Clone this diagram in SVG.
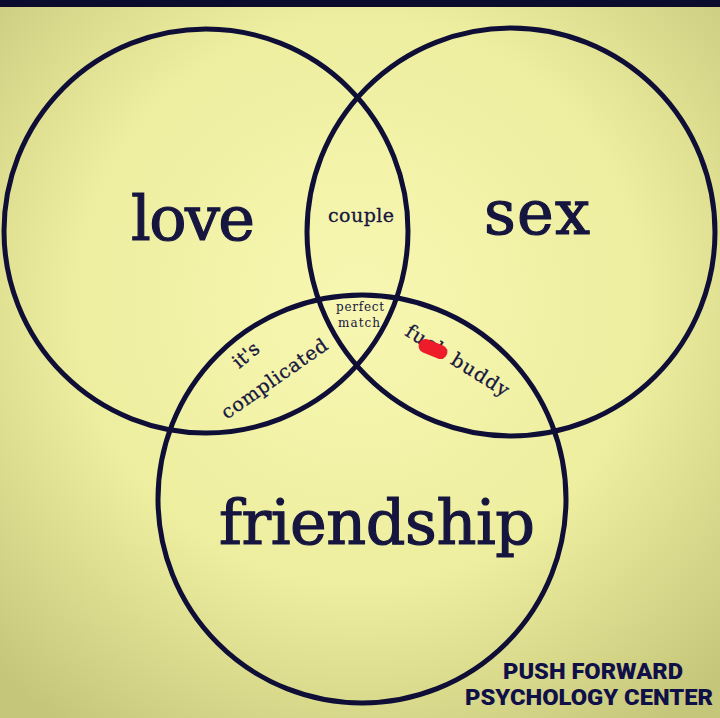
<svg xmlns="http://www.w3.org/2000/svg" width="720" height="718" viewBox="0 0 720 718">
<defs>
<radialGradient id="bg" cx="50%" cy="42%" r="72%">
<stop offset="0" stop-color="#f7f7b2"/>
<stop offset="0.55" stop-color="#eeeea0"/>
<stop offset="1" stop-color="#c6c67a"/>
</radialGradient>
</defs>
<style>
.c{fill:none;stroke:#0e0e36;stroke-width:5}
.big{font-family:"DejaVu Serif","Liberation Serif",serif;fill:#15153f;stroke:#15153f;stroke-width:1.2;font-size:62px}
.sm{font-family:"DejaVu Serif","Liberation Serif",serif;fill:#15153f;stroke:#15153f;stroke-width:0.3;font-size:19px}
.xs{font-family:"DejaVu Serif","Liberation Serif",serif;fill:#15153f;font-size:12px}
.wm{font-family:Roboto,"Liberation Sans",sans-serif;font-weight:900;fill:#101048;font-size:22px}
</style>
<rect width="720" height="718" fill="url(#bg)"/>
<rect width="720" height="7" fill="#0b0b2e"/>
<g id="connectors"></g>
<g id="love"><circle class="c" cx="206" cy="231" r="202"/><text class="big" x="193" y="240" text-anchor="middle" textLength="124">love</text></g>
<g id="sex"><circle class="c" cx="511" cy="232" r="204"/><text class="big" x="537" y="234" text-anchor="middle" textLength="106">sex</text></g>
<g id="friendship"><circle class="c" cx="362" cy="499" r="204"/><text class="big" x="377" y="544" text-anchor="middle" textLength="316">friendship</text></g>
<g id="couple"><text class="sm" x="361" y="222" text-anchor="middle" textLength="66">couple</text></g>
<g id="perfect-match"><text class="xs" x="360" y="311" text-anchor="middle" textLength="48">perfect</text><text class="xs" x="359" y="327" text-anchor="middle" textLength="42">match</text></g>
<g id="its-complicated"><text class="sm" transform="translate(250,360) rotate(-40)" text-anchor="middle">it's</text><text class="sm" transform="translate(278,384) rotate(-35)" text-anchor="middle" textLength="125">complicated</text></g>
<g id="fuck-buddy"><text class="sm" transform="translate(454,366) rotate(32)" text-anchor="middle" textLength="118">fuck buddy</text><rect x="-15" y="-7" width="30" height="14" rx="7" fill="#ee1c2a" transform="translate(433,349) rotate(22)"/></g>
<g id="watermark"><text class="wm" x="593" y="679" text-anchor="middle" textLength="180" lengthAdjust="spacingAndGlyphs">PUSH FORWARD</text><text class="wm" x="589" y="705" text-anchor="middle" textLength="248" lengthAdjust="spacingAndGlyphs">PSYCHOLOGY CENTER</text></g>
</svg>
